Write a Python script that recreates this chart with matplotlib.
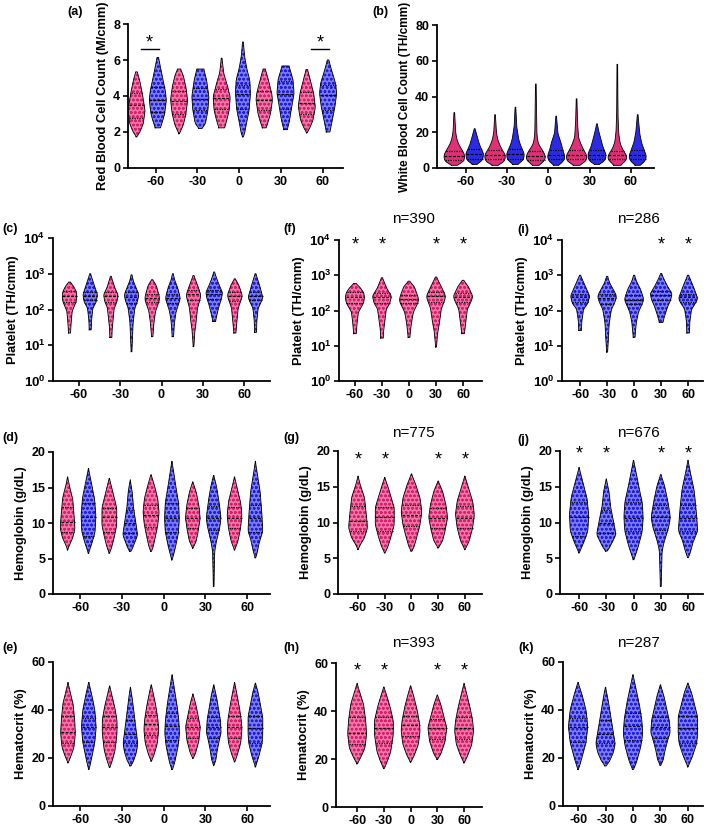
import matplotlib.pyplot as plt
import numpy as np

plt.rcParams['font.family'] = ['Liberation Sans', 'DejaVu Sans']
plt.rcParams['mathtext.fontset'] = 'custom'
plt.rcParams['mathtext.rm'] = 'Liberation Sans'
plt.rcParams['mathtext.bf'] = 'Liberation Sans:bold'
plt.rcParams['hatch.linewidth'] = 0.7

days = ['-60', '-30', '0', '30', '60']

# each violin: levels (values) and half-widths read at those levels (1/62 of a slot),
# plus (q1, median, q3)

# red blood cells (M/cmm)
rbc_pink_lv = [[1.73, 2.0, 2.47, 3.2, 4.14, 4.9, 5.34],
               [1.9, 2.37, 3.0, 3.77, 4.5, 5.15, 5.5],
               [2.23, 2.65, 3.2, 3.95, 4.7, 5.25, 6.1],
               [2.23, 2.47, 3.0, 3.77, 4.14, 4.9, 5.5],
               [1.95, 2.2, 2.65, 3.4, 4.14, 4.9, 5.47]]
rbc_pink_w = [[0, 10, 20, 25, 17, 9, 2],
              [0, 12, 20, 25, 20, 12, 4],
              [8, 15, 22, 25, 15, 6, 1],
              [5, 10, 18, 24, 22, 12, 3],
              [0, 8, 18, 25, 20, 10, 2]]
rbc_pink_q = [(2.8, 3.52, 4.14), (3.0, 3.7, 4.3), (3.3, 3.9, 4.4), (3.2, 3.8, 4.3), (3.0, 3.6, 4.2)]
rbc_blue_lv = [[2.23, 2.47, 3.0, 3.77, 4.3, 4.9, 5.6, 6.14],
               [2.2, 2.47, 3.2, 3.95, 4.9, 5.5],
               [1.73, 1.9, 2.47, 3.2, 4.14, 4.9, 5.44, 6.18, 7.0],
               [2.13, 2.65, 3.4, 4.14, 4.9, 5.67],
               [2.0, 2.65, 3.4, 4.14, 4.7, 5.44, 6.0]]
rbc_blue_w = [[7, 12, 20, 25, 22, 15, 8, 2],
              [4, 15, 22, 25, 18, 10],
              [0, 5, 10, 18, 22, 20, 12, 5, 1],
              [5, 12, 18, 25, 22, 10],
              [5, 12, 20, 25, 22, 10, 2]]
rbc_blue_q = [(3.1, 3.8, 4.5), (3.2, 3.85, 4.45), (3.3, 4.1, 4.6), (3.3, 4.1, 4.85), (3.2, 4.04, 4.6)]

# white blood cells (TH/cmm)
wbc_pink_lv = [[1.5, 3, 5, 7.5, 10, 13, 16, 20, 31],
               [1.5, 3, 5, 7.5, 10, 13, 16, 20, 29.8],
               [1.5, 3, 5, 7, 10, 13, 16, 20, 47],
               [1.5, 3, 5, 7, 10, 13, 17, 25, 38.7],
               [1.5, 3, 5, 7, 10, 14, 20, 30, 58]]
wbc_pink_w = [[6, 24, 31, 31, 24, 14, 8, 4, 1],
              [6, 24, 31, 31, 22, 14, 8, 4, 1],
              [6, 22, 29, 29, 20, 9, 5, 3, 1],
              [6, 24, 31, 31, 22, 14, 6, 3, 1],
              [6, 22, 29, 29, 17, 8, 4, 2, 1]]
wbc_pink_q = [(4.7, 6.8, 9.5), (4.8, 7.0, 9.8), (4.5, 6.9, 9.6), (4.8, 7.1, 9.8), (4.8, 7.0, 9.6)]
wbc_blue_lv = [[2, 3.5, 5, 8, 10, 13, 16, 19.5, 22],
               [2, 3.5, 5, 8, 10, 13, 16, 23, 34],
               [1.5, 3, 5, 7, 10, 14, 19.5, 29],
               [2, 3.5, 5.5, 8, 12, 16, 21, 24.7],
               [1.5, 3, 5, 7, 10, 14, 19.5, 29.8]]
wbc_blue_w = [[6, 18, 25, 27, 22, 15, 10, 5, 1],
              [6, 18, 25, 27, 22, 15, 10, 4, 1],
              [6, 18, 25, 26, 20, 15, 5, 1],
              [6, 20, 27, 27, 18, 12, 5, 1],
              [6, 18, 25, 26, 20, 12, 6, 1]]
wbc_blue_q = [(5.2, 7.6, 10.5), (5.3, 7.8, 10.8), (5.0, 7.4, 10.2), (5.2, 7.5, 10.3), (5.0, 7.2, 10.0)]

# platelets (TH/cmm), log axis
plt_pink_lv = [[22, 45, 90, 165, 240, 320, 450, 585],
               [16.5, 30, 45, 110, 160, 257, 400, 600, 850],
               [17.4, 40, 90, 160, 200, 260, 480, 680],
               [9.2, 25, 45, 110, 200, 257, 480, 890],
               [22, 45, 110, 200, 257, 480, 720]]
plt_pink_w = [[3, 5, 8, 20, 22, 20, 12, 2],
              [3, 4, 6, 10, 18, 22, 12, 6, 1],
              [2, 5, 10, 20, 22, 20, 12, 1],
              [1, 4, 8, 12, 20, 22, 12, 1],
              [3, 6, 10, 20, 22, 12, 1]]
plt_pink_q = [(165, 245, 330), (165, 235, 305), (160, 215, 280), (180, 265, 340), (170, 240, 310)]
plt_blue_lv = [[27, 50, 110, 160, 257, 490, 760, 1000],
               [6.6, 15, 30, 45, 110, 170, 257, 380, 600, 930],
               [17.4, 45, 90, 150, 200, 260, 420, 640, 1000],
               [46, 70, 130, 200, 300, 480, 800, 1120],
               [23, 50, 110, 170, 220, 300, 480, 1000]]
plt_blue_w = [[3, 4, 8, 18, 22, 12, 5, 1],
              [1, 3, 4, 5, 10, 18, 22, 15, 6, 1],
              [2, 5, 10, 18, 22, 20, 14, 6, 1],
              [4, 8, 15, 22, 25, 15, 6, 1],
              [3, 4, 8, 18, 22, 18, 12, 1]]
plt_blue_q = [(180, 235, 300), (150, 225, 300), (150, 205, 270), (200, 275, 350), (180, 235, 300)]

# hemoglobin (g/dL)
hb_pink_lv = [[6.2, 7.0, 7.85, 9.25, 10.7, 13.5, 15.3, 16.5],
              [5.75, 6.4, 7.85, 9.7, 12.1, 13.5, 14.9, 16.3],
              [6.0, 6.4, 7.85, 9.7, 11.5, 13.4, 15.3, 16.8],
              [6.45, 7.4, 8.8, 10.7, 12.5, 14.4, 15.8],
              [6.2, 7.4, 9.25, 11.1, 13.0, 14.9, 16.5]]
hb_pink_w = [[0, 6, 15, 22, 20, 15, 5, 0],
             [0, 6, 14, 22, 22, 15, 8, 0],
             [0, 5, 12, 20, 24, 20, 10, 0],
             [0, 10, 16, 22, 18, 10, 0],
             [0, 10, 18, 22, 18, 8, 0]]
hb_pink_q = [(8.8, 10.2, 12.3), (8.8, 10.8, 12.1), (9.5, 11.1, 12.5), (9.25, 10.65, 12.05), (9.25, 10.65, 12.3)]
hb_blue_lv = [[5.75, 6.4, 7.4, 8.8, 11.1, 13.5, 15.8, 17.7],
              [6.0, 6.2, 7.3, 8.3, 9.7, 12.1, 14.4, 16.1],
              [4.8, 5.5, 6.9, 8.8, 10.7, 12.8, 15.0, 17.3, 18.7],
              [1.07, 6.0, 7.4, 9.3, 10.7, 13.0, 15.3, 16.7],
              [5.1, 5.7, 7.4, 8.8, 10.7, 12.1, 14.5, 16.8, 18.7]]
hb_blue_w = [[0, 5, 12, 20, 22, 18, 8, 0],
             [0, 5, 14, 22, 18, 10, 6, 0],
             [0, 5, 12, 20, 22, 20, 12, 5, 0],
             [1, 3, 8, 18, 22, 16, 8, 0],
             [0, 5, 12, 22, 20, 18, 14, 6, 0]]
hb_blue_q = [(8.1, 10.8, 12.8), (8.55, 10.0, 11.8), (8.8, 10.65, 12.8), (9.0, 10.75, 12.4), (8.8, 10.65, 12.5)]

# hematocrit (%)
hct_pink_lv = [[18.0, 20.5, 24.5, 30.3, 35.8, 42.8, 48.4, 51.5],
               [16, 18, 23, 30.3, 35.8, 41.4, 47.4, 50],
               [18.7, 21.2, 26.1, 31.7, 35.8, 41.4, 47, 50.5],
               [19.8, 22, 27.3, 33, 37.2, 42.8, 46.7],
               [18.4, 21.2, 26.1, 31.7, 35.8, 41.4, 47.4, 51.5]]
hct_pink_w = [[0, 8, 18, 22, 20, 15, 5, 0],
              [0, 6, 16, 22, 22, 15, 5, 0],
              [0, 8, 18, 22, 20, 14, 6, 0],
              [0, 8, 18, 22, 16, 8, 0],
              [0, 8, 18, 22, 20, 14, 6, 0]]
hct_pink_q = [(26.1, 31.0, 37.5), (26.8, 32.8, 37.5), (29.6, 34.0, 37.9), (28.2, 32.8, 36.5), (28.2, 33.0, 37.5)]
hct_blue_lv = [[15.2, 17, 21, 26.5, 33, 40, 47, 51.5],
               [16.7, 18.2, 22.4, 26.1, 30.3, 37.2, 45.2, 49.5],
               [15.2, 16.7, 19.5, 25, 30.3, 35.8, 42.8, 49.8, 54.7],
               [17, 18.8, 22.9, 28.5, 30.3, 35.8, 40.4, 45.8, 50.5],
               [16.3, 20.5, 26.1, 30.3, 37.2, 41.4, 47.4, 51.2]]
hct_blue_w = [[0, 4, 10, 18, 22, 18, 8, 0],
              [0, 8, 18, 22, 18, 12, 5, 0],
              [0, 5, 10, 18, 22, 20, 14, 6, 0],
              [0, 6, 10, 18, 22, 20, 14, 8, 0],
              [0, 10, 20, 22, 22, 16, 8, 0]]
hct_blue_q = [(26.8, 32.8, 36.5), (26.1, 30.0, 35.8), (27.5, 33.3, 38.6), (28.2, 33.0, 37.2), (26.1, 32.4, 37.5)]

n_titles = {'f': 'n=390', 'i': 'n=286', 'g': 'n=775', 'j': 'n=676', 'h': 'n=393', 'k': 'n=287'}

PINK = ('#ef78a9', '#d81f6c')
BLUE = ('#7c7cf3', '#2020dc')
SOLID_PINK = '#e03078'
SOLID_BLUE = '#2b2be6'
W = 1 / 62.0
W_PX, H_PX = 709, 826

fig = plt.figure(figsize=(W_PX / 100, H_PX / 100), dpi=100)


def add_ax(l, r, t, b):
    return fig.add_axes([l / W_PX, 1 - b / H_PX, (r - l) / W_PX, (b - t) / H_PX])


def violin(ax, x, lv, w, q, col, log=False, solid=None):
    lv = np.log10(lv) if log else np.asarray(lv, float)
    g = np.linspace(lv[0], lv[-1], 240)
    hw = np.interp(g, lv, w)
    hw = np.convolve(np.pad(hw, 8, mode='edge'), np.ones(17) / 17, mode='valid') * W
    ys = 10 ** g if log else g
    if solid:
        ax.fill_betweenx(ys, x - hw, x + hw, facecolor=solid, linewidth=0, zorder=2)
    else:
        ax.fill_betweenx(ys, x - hw, x + hw, facecolor=col[0], edgecolor=col[1],
                         hatch='oooo', linewidth=0, zorder=2)
    ax.plot(np.r_[x - hw, (x + hw)[::-1], x - hw[0]], np.r_[ys, ys[::-1], ys[0]],
            color='k', lw=0.6, zorder=3)
    for v, ls in zip(q, [':', '--', ':']):
        gv = np.log10(v) if log else v
        h = np.interp(gv, g, hw)
        ax.plot([x - h, x + h], [v, v], color='k', lw=0.9, ls=ls, zorder=4,
                dashes=(2.2, 1.2) if ls == '--' else (1, 1))


def style(ax, xlim, xt, ylim, yt, ylabel, log=False, lsize=9.3):
    for s in ['top', 'right']:
        ax.spines[s].set_visible(False)
    for s in ['left', 'bottom']:
        ax.spines[s].set_linewidth(1.3)
    ax.set_xlim(*xlim)
    ax.set_xticks(xt)
    ax.set_xticklabels(days, fontweight='bold', fontsize=9)
    if log:
        ax.set_yscale('log')
        ax.set_ylim(*ylim)
        ax.set_yticks(yt)
        ax.set_yticklabels([r'$\mathbf{10^{%d}}$' % int(np.log10(v)) for v in yt], fontsize=9.5)
        ax.minorticks_off()
    else:
        ax.set_ylim(*ylim)
        ax.set_yticks(yt)
        ax.set_yticklabels([str(v) for v in yt], fontweight='bold', fontsize=9)
    ax.tick_params(direction='out', length=3.5, width=1.2, pad=2)
    ax.set_ylabel(ylabel, fontweight='bold', fontsize=lsize, labelpad=3)


def both(ax, pl, pw, pq, bl, bw, bq, log=False, solid=False):
    for i in range(5):
        violin(ax, 2 * i + 1, pl[i], pw[i], pq[i], PINK, log, SOLID_PINK if solid else None)
        violin(ax, 2 * i + 2, bl[i], bw[i], bq[i], BLUE, log, SOLID_BLUE if solid else None)


def one(ax, lvs, ws, qs, col, log=False):
    for i in range(5):
        violin(ax, i + 1, lvs[i], ws[i], qs[i], col, log)


def star(ax, x, y):
    ax.text(x, y, '*', ha='center', va='center', fontsize=13)


def stars(ax, idx, y):
    for i in idx:
        star(ax, i, y)


def label(s, x, y):
    fig.text(x / W_PX, 1 - y / H_PX, s, ha='left', va='center', fontsize=9, fontweight='bold')


def title(s, x, y):
    fig.text(x / W_PX, 1 - y / H_PX, s, ha='center', va='center', fontsize=11)


# (a)
ax = add_ax(128, 343, 24, 168)
both(ax, rbc_pink_lv, rbc_pink_w, rbc_pink_q, rbc_blue_lv, rbc_blue_w, rbc_blue_q)
style(ax, (0.6, 10.7), [1.9 + 1.96 * k for k in range(5)], (0, 8), [0, 2, 4, 6, 8],
      'Red Blood Cell Count (M/cmm)')
for x0 in (1, 9):
    ax.plot([x0 + 0.2, x0 + 1.05], [6.6, 6.6], color='k', lw=1)
    star(ax, x0 + 0.62, 6.95)
label('(a)', 67, 12)

# (b)
ax = add_ax(437, 654, 25, 168)
both(ax, wbc_pink_lv, wbc_pink_w, wbc_pink_q, wbc_blue_lv, wbc_blue_w, wbc_blue_q, solid=True)
style(ax, (0.15, 10.8), [1.55 + 2.03 * k for k in range(5)], (0, 80), [0, 20, 40, 60, 80],
      'White Blood Cell Count (TH/cmm)', lsize=8.6)
label('(b)', 372, 12)

# row of platelets
ax = add_ax(53, 270, 238, 381)
both(ax, plt_pink_lv, plt_pink_w, plt_pink_q, plt_blue_lv, plt_blue_w, plt_blue_q, log=True)
style(ax, (0.2, 10.7), [1.45 + 2 * k for k in range(5)], (1, 1e4), [1, 10, 100, 1000, 10000],
      'Platelet (TH/cmm)', log=True)
label('(c)', 2, 229)

ax = add_ax(339, 482, 240, 381)
one(ax, plt_pink_lv, plt_pink_w, plt_pink_q, PINK, log=True)
style(ax, (0.41, 5.7), [1, 2, 3, 4, 5], (1, 1e4), [1, 10, 100, 1000, 10000],
      'Platelet (TH/cmm)', log=True)
stars(ax, [1, 2, 4, 5], 7000)
label('(f)', 283, 229)
title(n_titles['f'], 413, 219)

ax = add_ax(562, 703, 240, 381)
one(ax, plt_blue_lv, plt_blue_w, plt_blue_q, BLUE, log=True)
style(ax, (0.33, 5.55), [1, 2, 3, 4, 5], (1, 1e4), [1, 10, 100, 1000, 10000],
      'Platelet (TH/cmm)', log=True)
stars(ax, [4, 5], 7000)
label('(i)', 517, 230)
title(n_titles['i'], 638, 219)

# row of hemoglobin
ax = add_ax(53, 270, 452, 594)
both(ax, hb_pink_lv, hb_pink_w, hb_pink_q, hb_blue_lv, hb_blue_w, hb_blue_q)
style(ax, (0.3, 10.7), [1.6 + 2 * k for k in range(5)], (0, 20), [0, 5, 10, 15, 20],
      'Hemoglobin (g/dL)')
label('(d)', 2, 438)

ax = add_ax(338, 482, 451, 594)
one(ax, hb_pink_lv, hb_pink_w, hb_pink_q, PINK)
style(ax, (0.25, 5.64), [1, 2, 3, 4, 5], (0, 20), [0, 5, 10, 15, 20], 'Hemoglobin (g/dL)')
stars(ax, [1, 2, 4, 5], 18.8)
label('(g)', 283, 438)
title(n_titles['g'], 413, 433)

ax = add_ax(560, 703, 451, 594)
one(ax, hb_blue_lv, hb_blue_w, hb_blue_q, BLUE)
style(ax, (0.3, 5.55), [1, 2, 3, 4, 5], (0, 20), [0, 5, 10, 15, 20], 'Hemoglobin (g/dL)')
stars(ax, [1, 2, 4, 5], 19.6)
label('(j)', 517, 440)
title(n_titles['j'], 638, 433)

# row of hematocrit
ax = add_ax(53, 270, 662, 806)
both(ax, hct_pink_lv, hct_pink_w, hct_pink_q, hct_blue_lv, hct_blue_w, hct_blue_q)
style(ax, (0.28, 10.7), [1.6 + 2 * k for k in range(5)], (0, 60), [0, 20, 40, 60],
      'Hematocrit (%)')
label('(e)', 2, 648)

ax = add_ax(336, 482, 663, 807)
one(ax, hct_pink_lv, hct_pink_w, hct_pink_q, PINK)
style(ax, (0.21, 5.67), [1, 2, 3, 4, 5], (0, 60), [0, 20, 40, 60], 'Hematocrit (%)')
stars(ax, [1, 2, 4, 5], 56.5)
label('(h)', 283, 648)
title(n_titles['h'], 413, 643)

ax = add_ax(563, 703, 662, 806)
one(ax, hct_blue_lv, hct_blue_w, hct_blue_q, BLUE)
style(ax, (0.45, 5.55), [1, 2, 3, 4, 5], (0, 60), [0, 20, 40, 60], 'Hematocrit (%)')
label('(k)', 518, 648)
title(n_titles['k'], 638, 643)

fig.savefig('out.png', dpi=100)
